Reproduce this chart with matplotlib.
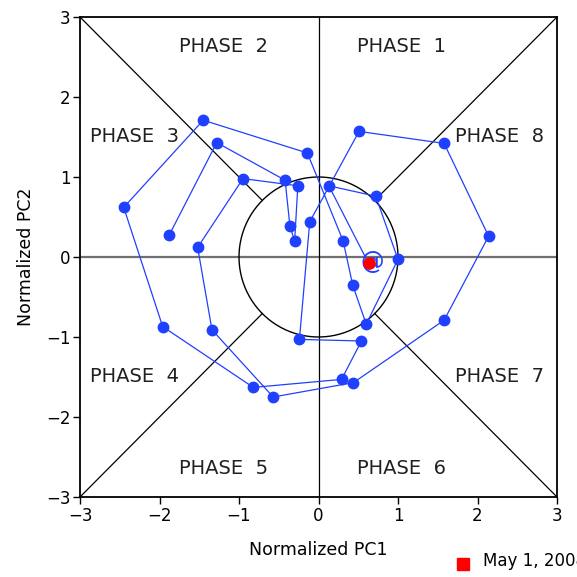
import numpy as np
import matplotlib
matplotlib.use("Agg")
import matplotlib.pyplot as plt

# daily (PC1, PC2) values, in plotting order
pc1 = [0.63, 0.13, 0.72, 1.00, 0.60, 0.43, 0.31, -0.14, -1.45, -2.45,
       -1.96, -0.82, 0.29, 0.54, -0.24, -0.11, 0.51, 1.58, 2.14, 1.58,
       0.44, -0.57, -1.34, -1.52, -0.95, -0.26, -0.30, -0.36, -0.42, -1.28,
       -1.88]
pc2 = [-0.08, 0.89, 0.76, -0.03, -0.84, -0.35, 0.20, 1.30, 1.71, 0.62,
       -0.87, -1.63, -1.53, -1.05, -1.03, 0.44, 1.57, 1.42, 0.26, -0.79,
       -1.57, -1.75, -0.91, 0.12, 0.98, 0.89, 0.20, 0.39, 0.96, 1.43,
       0.27]

start_label = "May 1, 2008"

phase_names = ["PHASE  1", "PHASE  2", "PHASE  3", "PHASE  4",
               "PHASE  5", "PHASE  6", "PHASE  7", "PHASE  8"]
phase_x = [1.05, -1.19, -2.31, -2.31, -1.19, 1.05, 2.28, 2.28]
phase_y = [2.63, 2.63, 1.50, -1.50, -2.64, -2.64, -1.50, 1.50]

fig = plt.figure(figsize=(5.77, 5.77), dpi=100)
ax = fig.add_axes([80/577, 80/577, 477/577, 480/577])

# frame of the phase diagram
ax.axhline(0, color="#707070", lw=1.6, zorder=1)
ax.axvline(0, color="black", lw=0.9, zorder=1)
r = np.sqrt(0.5)
for sx in (-1, 1):
    for sy in (-1, 1):
        ax.plot([sx*r, sx*3], [sy*r, sy*3], color="black", lw=0.9, zorder=1)
t = np.linspace(0, 2*np.pi, 300)
ax.plot(np.cos(t), np.sin(t), color="black", lw=1.0, zorder=1)

for name, x, y in zip(phase_names, phase_x, phase_y):
    ax.text(x, y, name, fontsize=14, ha="center", va="center", color="#202020")

# trajectory
blue = "#2040ff"
ax.plot(pc1, pc2, color=blue, lw=0.9, marker="o", ms=7.5, mec=blue, mfc=blue, zorder=3)
ax.text(pc1[0] + 0.04, pc2[0] + 0.02, "@", color=blue, fontsize=17,
        ha="center", va="center", zorder=4)
ax.plot(pc1[0], pc2[0], "o", color="red", ms=8, zorder=5)

ax.set_xlim(-3, 3)
ax.set_ylim(-3, 3)
ax.set_xticks(range(-3, 4))
ax.set_yticks(range(-3, 4))
ax.tick_params(direction="out", length=5, width=1, labelsize=12, pad=2)
for s in ax.spines.values():
    s.set_linewidth(1.3)

ax.set_xlabel("Normalized PC1", fontsize=12.5, labelpad=12)
ax.set_ylabel("Normalized PC2", fontsize=12.5, labelpad=8)

# start-date key below the plot
fig.patches.append(plt.Rectangle((457/577, 7/577), 12/577, 12/577,
                                 transform=fig.transFigure, color="red"))
fig.text(483/577, 7/577, start_label, fontsize=12, ha="left", va="bottom")

fig.savefig("out.png", dpi=100)
